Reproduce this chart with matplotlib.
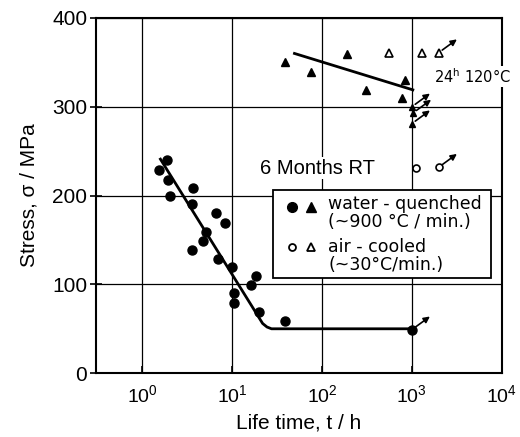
import numpy as np
import matplotlib
matplotlib.use("Agg")
import matplotlib.pyplot as plt
from matplotlib.patches import Rectangle

plt.rcParams['font.family'] = ['Liberation Sans', 'DejaVu Sans']
plt.rcParams['mathtext.default'] = 'regular'

# water-quenched, filled circles (life time h, stress MPa)
wq_t = [1.55, 1.9, 1.93, 2.07, 3.7, 3.6, 5.1, 4.76, 3.63, 6.6, 8.4, 7.0,
        9.9, 10.6, 10.6, 18.4, 16.1, 20.0, 39.0]
wq_s = [229, 240, 218, 199, 208, 190, 159, 149, 139, 180, 169, 129,
        120, 90, 79, 109, 99, 69, 59]
wq_runout_t = [1000]
wq_runout_s = [49]

# fitted curve, water-quenched
fit_t = [1.6, 21.9, 24.5, 27.5, 1000]
fit_s = [241, 56, 52, 50, 50]

# water-quenched + 24h 120C, filled triangles
tri_t = [38.5, 75, 191, 311, 847, 776]
tri_s = [350, 339, 359, 319, 330, 310]
tri_runout_t = [1000, 1030, 1000]
tri_runout_s = [300, 293, 281]
tri_fit_t = [49.5, 1025]
tri_fit_s = [360, 319]

# air-cooled, open triangles
ac_tri_t = [550, 1290]
ac_tri_s = [361, 361]
ac_tri_runout_t = [1995]
ac_tri_runout_s = [361]

# air-cooled, 6 months RT, open circles
ac_t = [1120]
ac_s = [231]
ac_runout_t = [1995]
ac_runout_s = [232]

fig = plt.figure(figsize=(5.2, 4.37), dpi=100)
ax = fig.add_axes([0.185, 0.146, 0.78, 0.813])
ax.set_xscale('log')
ax.set_xlim(10**-0.51, 10**4.0)
ax.set_ylim(0, 400)

ax.grid(True, which='major', color='black', lw=0.9)
ax.grid(False, which='minor')
ax.set_axisbelow(True)
ax.minorticks_off()

ax.plot(fit_t, fit_s, color='black', lw=2.0, zorder=3)
ax.plot(tri_fit_t, tri_fit_s, color='black', lw=2.0, zorder=3)

ax.plot(wq_t, wq_s, 'o', color='black', ms=6.5, zorder=4)
ax.plot(wq_runout_t, wq_runout_s, 'o', color='black', ms=6.5, zorder=4)
ax.plot(tri_t, tri_s, '^', color='black', ms=6, zorder=4)
ax.plot(tri_runout_t, tri_runout_s, '^', color='black', ms=4.5, zorder=4)
ax.plot(ac_tri_t, ac_tri_s, '^', mfc='white', mec='black', ms=6, mew=1.2, zorder=4)
ax.plot(ac_tri_runout_t, ac_tri_runout_s, '^', mfc='white', mec='black', ms=6, mew=1.2, zorder=4)
ax.plot(ac_t, ac_s, 'o', mfc='white', mec='black', ms=5, mew=1.2, zorder=4)
ax.plot(ac_runout_t, ac_runout_s, 'o', mfc='white', mec='black', ms=5, mew=1.2, zorder=4)

# run-out arrows
for t, s in zip(wq_runout_t + tri_runout_t + ac_tri_runout_t + ac_runout_t,
                wq_runout_s + tri_runout_s + ac_tri_runout_s + ac_runout_s):
    ax.annotate('', xy=(t, s), xytext=(13, 9.5), textcoords='offset points',
                arrowprops=dict(arrowstyle='<|-', color='black', lw=1.2,
                                shrinkA=0, shrinkB=3, mutation_scale=9),
                zorder=5)

ax.text(1780, 334, '24$^{h}$ 120°C', fontsize=10.5, family='DejaVu Sans',
        ha='left', va='center', clip_on=False,
        bbox=dict(fc='white', ec='none', pad=0.5))
ax.text(20.7, 231, '6 Months RT', fontsize=14.5, ha='left', va='center',
        bbox=dict(fc='white', ec='none', pad=1))

# legend box
ax.add_patch(Rectangle((0.437, 0.268), 0.536, 0.247, transform=ax.transAxes,
                       fc='white', ec='black', lw=1.3, zorder=6))
lk = dict(transform=ax.transAxes, zorder=7, color='black')
ax.plot([0.482], [0.468], 'o', ms=7, **lk)
ax.plot([0.529], [0.468], '^', ms=6.5, **lk)
ax.plot([0.482], [0.356], 'o', ms=5, mfc='white', mew=1.3, **lk)
ax.plot([0.529], [0.356], '^', ms=5.5, mfc='white', mew=1.3, **lk)
tk = dict(transform=ax.transAxes, zorder=7, fontsize=12.5, family='DejaVu Sans',
          ha='left', va='center')
ax.text(0.572, 0.476, 'water - quenched', **tk)
ax.text(0.572, 0.426, '(~900 °C / min.)', **tk)
ax.text(0.572, 0.356, 'air - cooled', **tk)
ax.text(0.572, 0.304, '(~30°C/min.)', **tk)

ax.set_xticks([1, 10, 100, 1000, 10000])
ax.set_xticklabels(['$10^{0}$', '$10^{1}$', '$10^{2}$', '$10^{3}$', '$10^{4}$'])
ax.set_yticks([0, 100, 200, 300, 400])
ax.tick_params(axis='x', direction='in', length=5, width=1.2, labelsize=14, pad=8)
ax.tick_params(axis='y', direction='inout', length=9, width=1.2, labelsize=15, pad=2)
for sp in ax.spines.values():
    sp.set_linewidth(1.5)

ax.set_xlabel('Life time, t / h', fontsize=15, labelpad=5)
ax.set_ylabel('Stress, σ / MPa', fontsize=15, labelpad=10)

fig.savefig('out.png', dpi=100)
